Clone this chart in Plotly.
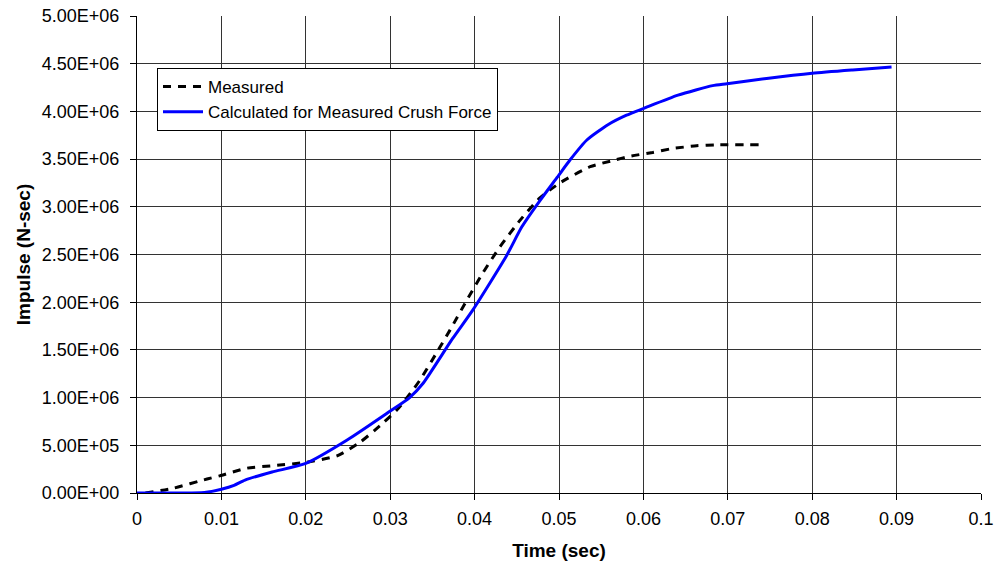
import plotly.graph_objects as go

# Measured impulse (dashed)
meas_t = [0.0010, 0.0043, 0.0083, 0.0098, 0.0130, 0.0166, 0.0199, 0.0237, 0.0264, 0.0291,
          0.0310, 0.0335, 0.0359, 0.0371, 0.0392, 0.0410, 0.0430, 0.0454, 0.0477, 0.0501,
          0.0537, 0.0566, 0.0584, 0.0611, 0.0634, 0.0663, 0.0687, 0.0737]
meas_i = [0.0, 5.0e4, 1.47e5, 1.8e5, 2.6e5, 2.9e5, 3.2e5, 3.9e5, 5.3e5, 7.3e5,
          8.9e5, 1.18e6, 1.53e6, 1.71e6, 2.04e6, 2.31e6, 2.58e6, 2.86e6, 3.09e6, 3.25e6,
          3.42e6, 3.49e6, 3.53e6, 3.57e6, 3.61e6, 3.64e6, 3.65e6, 3.65e6]

# Calculated for measured crush force (solid blue)
calc_t = [0.0, 0.0040, 0.0080, 0.0100, 0.0115, 0.0128, 0.0160, 0.0200, 0.0249, 0.0297,
          0.0323, 0.0339, 0.0374, 0.0398, 0.0438, 0.0456, 0.0477, 0.0498, 0.0513, 0.0533,
          0.0558, 0.0580, 0.0600, 0.0641, 0.0682, 0.0699, 0.0746, 0.0800, 0.0848, 0.0894]
calc_i = [0.0, 0.0, 5.0e3, 4.0e4, 8.0e4, 1.36e5, 2.2e5, 3.1e5, 5.55e5, 8.4e5,
          1.0e6, 1.15e6, 1.62e6, 1.92e6, 2.49e6, 2.79e6, 3.06e6, 3.31e6, 3.49e6, 3.70e6,
          3.86e6, 3.96e6, 4.03e6, 4.17e6, 4.27e6, 4.29e6, 4.345e6, 4.40e6, 4.435e6, 4.465e6]

x_ticks = [0, 0.01, 0.02, 0.03, 0.04, 0.05, 0.06, 0.07, 0.08, 0.09, 0.1]
x_labels = ["0", "0.01", "0.02", "0.03", "0.04", "0.05", "0.06", "0.07", "0.08", "0.09", "0.1"]
y_ticks = [0, 5e5, 1e6, 1.5e6, 2e6, 2.5e6, 3e6, 3.5e6, 4e6, 4.5e6, 5e6]
y_labels = ["0.00E+00", "5.00E+05", "1.00E+06", "1.50E+06", "2.00E+06", "2.50E+06",
            "3.00E+06", "3.50E+06", "4.00E+06", "4.50E+06", "5.00E+06"]

FONT = "Liberation Sans, Arial, sans-serif"

fig = go.Figure()
fig.add_trace(go.Scatter(x=meas_t, y=meas_i, mode="lines", name="Measured",
                         line=dict(color="black", width=3, dash="8px,7px", shape="spline", smoothing=0.6)))
fig.add_trace(go.Scatter(x=calc_t, y=calc_i, mode="lines", name="Calculated for Measured Crush Force",
                         line=dict(color="#0000FF", width=3, shape="spline", smoothing=0.6)))

fig.update_layout(
    width=994, height=565,
    margin=dict(l=137, r=13, t=16, b=72, autoexpand=False),
    paper_bgcolor="white", plot_bgcolor="white",
    font=dict(family=FONT, size=16, color="black"),
    showlegend=True,
    legend=dict(x=0.0237, y=0.891, xanchor="left", yanchor="top",
                bgcolor="white", bordercolor="black", borderwidth=1,
                font=dict(family=FONT, size=17), tracegroupgap=0,
                itemwidth=40),
    xaxis=dict(range=[0, 0.1], tickvals=x_ticks, ticktext=x_labels,
               showgrid=True, gridcolor="#333", gridwidth=1,
               showline=True, linecolor="black", linewidth=1,
               ticks="outside", ticklen=6, tickcolor="black",
               zeroline=False, tickfont=dict(size=18), automargin=False,
               ticklabelstandoff=3,
               title=dict(text="<b>Time (sec)</b>", font=dict(size=19), standoff=16)),
    yaxis=dict(range=[0, 5e6], tickvals=y_ticks, ticktext=y_labels,
               showgrid=True, gridcolor="#333", gridwidth=1,
               showline=True, linecolor="black", linewidth=1,
               ticks="outside", ticklen=6, tickcolor="black",
               zeroline=False, tickfont=dict(size=18), automargin=False,
               ticklabelstandoff=7,
               title=dict(text="<b>Impulse (N-sec)</b>", font=dict(size=19), standoff=6)),
)

fig.write_html("out.html")
